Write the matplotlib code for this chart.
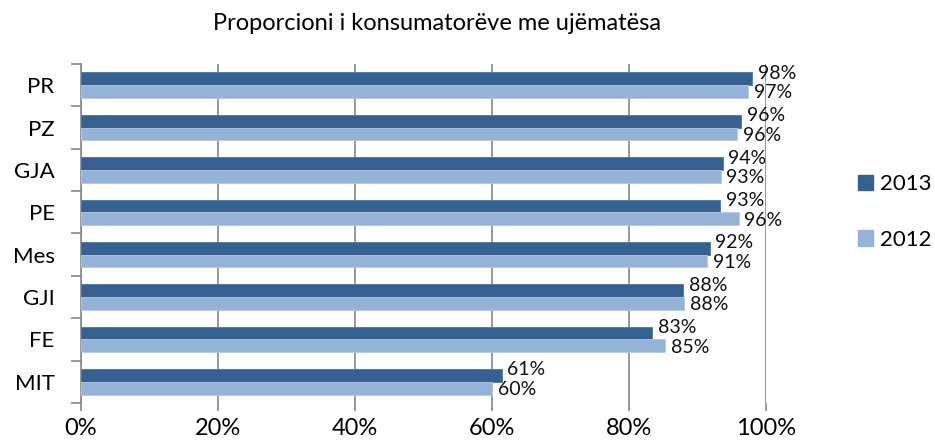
import matplotlib
matplotlib.use("Agg")
import matplotlib.pyplot as plt
from matplotlib.patches import Patch
import numpy as np

categories = ["PR", "PZ", "GJA", "PE", "Mes", "GJI", "FE", "MIT"]
values_2013 = [0.98, 0.964, 0.937, 0.933, 0.918, 0.879, 0.834, 0.614]
values_2012 = [0.974, 0.958, 0.934, 0.96, 0.914, 0.881, 0.853, 0.60]
series_names = ["2013", "2012"]
xticks = [0, 0.2, 0.4, 0.6, 0.8, 1.0]
xtick_labels = ["0%", "20%", "40%", "60%", "80%", "100%"]
title = "Proporcioni i konsumatorëve me ujëmatësa"

plt.rcParams['font.family'] = ['Lato', 'DejaVu Sans']

dark = "#36608F"
light = "#95B3D7"
grid_c = "#878787"

fig = plt.figure(figsize=(9.35, 4.48), dpi=100)
ax = fig.add_axes([81/935, 1-403/448, (766-81)/935, (403-64)/448])

y = np.arange(len(categories))
h = 0.3
ax.barh(y - h/2, values_2013, height=h, color=dark, edgecolor="#4A74A8", linewidth=0.6, zorder=3)
ax.barh(y + h/2, values_2012, height=h, color=light, edgecolor="#B4C8E2", linewidth=0.6, zorder=3)

for v, yy in zip(values_2013, y - h/2):
    ax.annotate(f"{round(v*100):d}%", (v, yy), xytext=(4, 4), textcoords="offset points",
                ha="left", va="center", fontsize=14, color="#111111", zorder=4)
for v, yy in zip(values_2012, y + h/2):
    ax.annotate(f"{round(v*100):d}%", (v, yy), xytext=(4, -1), textcoords="offset points",
                ha="left", va="center", fontsize=14, color="#111111", zorder=4)

ax.set_xlim(0, 1.0)
ax.set_ylim(len(categories) - 0.5, -0.5)
ax.set_xticks(xticks)
ax.set_xticklabels(xtick_labels, fontsize=17)
ax.set_yticks(y)
ax.set_yticklabels(categories, fontsize=16)
ax.set_yticks(np.arange(len(categories) + 1) - 0.5, minor=True)
ax.tick_params(axis="y", which="major", length=0, pad=19)
ax.tick_params(axis="y", which="minor", length=7, width=1.2, color=grid_c, direction="out")
ax.tick_params(axis="x", which="major", length=6, width=1.2, color=grid_c, direction="out", pad=5)

ax.grid(axis="x", color=grid_c, linewidth=1.2, zorder=0)
for s in ["top", "right", "bottom"]:
    ax.spines[s].set_visible(False)
ax.spines["left"].set_color(grid_c)
ax.spines["left"].set_linewidth(1.2)

fig.text(437/935, 1-24/448, title, ha="center", va="center", fontsize=17)

handles = [Patch(facecolor=dark, edgecolor=dark), Patch(facecolor=light, edgecolor=light)]
fig.legend(handles, series_names, loc="center left", bbox_to_anchor=(858/935, 1-212/448),
           frameon=False, fontsize=16, handlelength=0.68, handleheight=0.68,
           handletextpad=0.33, labelspacing=1.6, borderpad=0, borderaxespad=0)

fig.savefig("out.png", dpi=100)
